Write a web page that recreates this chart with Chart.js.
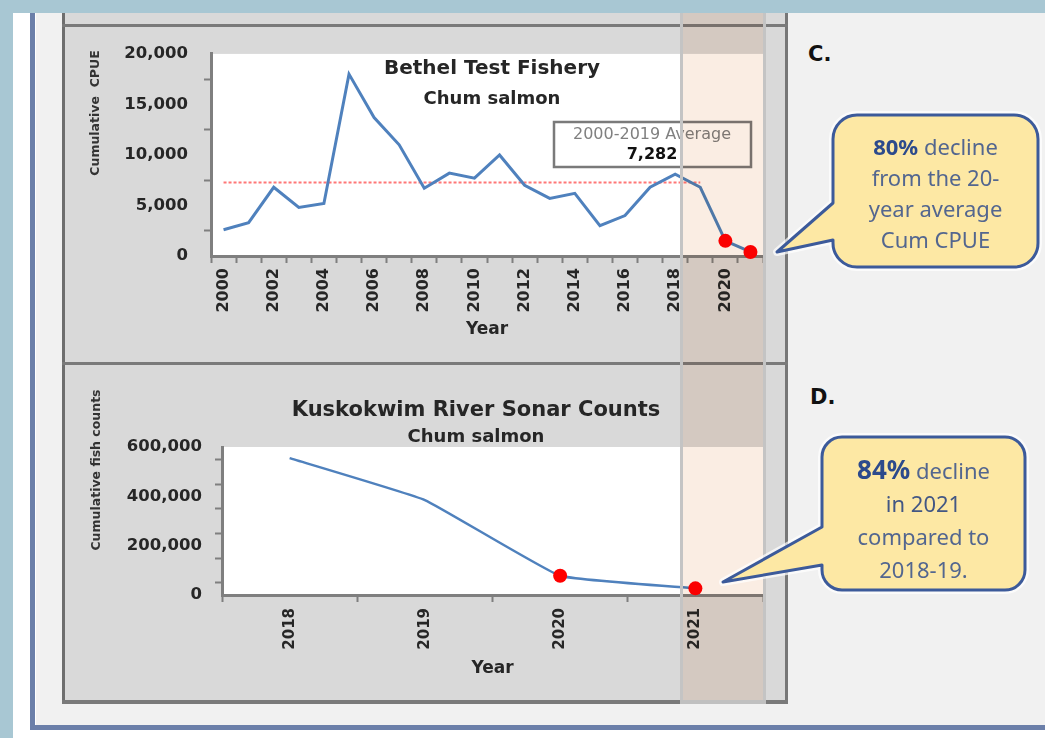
<!DOCTYPE html>
<html>
<head>
<meta charset="utf-8">
<script src="https://cdn.jsdelivr.net/npm/chart.js@4.4.1/dist/chart.umd.min.js"></script>
<style>
  html, body { margin: 0; padding: 0; }
  body { width: 1045px; height: 738px; position: relative; overflow: hidden; background: #fff; }
  .blk { position: absolute; }
  canvas { position: absolute; }
  .label { position: absolute; font: bold 21px 'DejaVu Sans', sans-serif; color: #111; }
  .callout-text { position: absolute; text-align: center; font-family: 'Noto Sans', sans-serif; font-size: 22px; color: #53668f; }
  .callout-text b { color: #2c4a8c; }
</style>
</head>
<body>
<!-- page frame -->
<div class="blk" style="left:0;top:0;width:1045px;height:13px;background:#a8c7d3"></div>
<div class="blk" style="left:0;top:0;width:13px;height:738px;background:#a8c7d3"></div>
<div class="blk" style="left:36px;top:13px;width:1009px;height:712px;background:#f1f1f1"></div>
<div class="blk" style="left:30px;top:13px;width:5px;height:717px;background:#6b7fa9"></div>
<div class="blk" style="left:30px;top:725px;width:1015px;height:5px;background:#6b7fa9"></div>

<!-- grey panel -->
<div class="blk" style="left:62px;top:13px;width:726px;height:691px;background:#d9d9d9"></div>
<div class="blk" style="left:62px;top:13px;width:3px;height:691px;background:#6e6e6e"></div>
<div class="blk" style="left:785px;top:13px;width:3px;height:691px;background:#777"></div>
<div class="blk" style="left:62px;top:24px;width:726px;height:3px;background:#7a7a7a"></div>
<div class="blk" style="left:62px;top:362px;width:726px;height:3px;background:#7a7a7a"></div>
<div class="blk" style="left:62px;top:700px;width:726px;height:4px;background:#7a7a7a"></div>

<canvas id="cpueChart" width="714" height="334" style="left:66px;top:28px"></canvas>
<canvas id="sonarChart" width="714" height="336" style="left:66px;top:366px"></canvas>

<!-- highlighted recent years band -->
<div class="blk" style="left:680px;top:13px;width:86px;height:691px;background:#faede3;mix-blend-mode:multiply"></div>
<div class="blk" style="left:680px;top:13px;width:3px;height:691px;background:#c4c4c4"></div>
<div class="blk" style="left:763px;top:13px;width:3px;height:691px;background:#c4c4c4"></div>
<div class="blk" style="left:680px;top:700px;width:86px;height:4px;background:#c0c0c0"></div>

<div class="label" style="left:808px;top:42px">C.</div>
<div class="label" style="left:810px;top:385px">D.</div>

<svg class="blk" style="left:0;top:0" width="1045" height="738">
  <g fill="none" stroke="rgba(255,255,255,0.7)" stroke-width="8" stroke-linejoin="round">
    <path d="M 857 115 H 1014 A 24 24 0 0 1 1038 139 V 243 A 24 24 0 0 1 1014 267 H 857 A 24 24 0 0 1 833 243 V 240 L 777 252 L 833 203 V 139 A 24 24 0 0 1 857 115 Z"/>
    <path d="M 842 437 H 1005 A 20 20 0 0 1 1025 457 V 570 A 20 20 0 0 1 1005 590 H 842 A 20 20 0 0 1 822 570 V 565 L 723 582 L 822 527 V 457 A 20 20 0 0 1 842 437 Z"/>
  </g>
  <g fill="#fde8a4" stroke="#3c5a9a" stroke-width="3" stroke-linejoin="round">
    <path d="M 857 115 H 1014 A 24 24 0 0 1 1038 139 V 243 A 24 24 0 0 1 1014 267 H 857 A 24 24 0 0 1 833 243 V 240 L 777 252 L 833 203 V 139 A 24 24 0 0 1 857 115 Z"/>
    <path d="M 842 437 H 1005 A 20 20 0 0 1 1025 457 V 570 A 20 20 0 0 1 1005 590 H 842 A 20 20 0 0 1 822 570 V 565 L 723 582 L 822 527 V 457 A 20 20 0 0 1 842 437 Z"/>
  </g>
</svg>

<div class="callout-text" style="left:833px;top:131px;width:205px;line-height:31px">
  <b>80%</b> decline<br>from the 20-<br>year average<br>Cum CPUE
</div>
<div class="callout-text" style="left:822px;top:453px;width:203px;line-height:33px">
  <b style="font-size:26px;line-height:33px">84%</b> decline<br><span style="color:#435784">in 2021</span><br>compared to<br>2018-19.
</div>

<script>
// Bethel Test Fishery, cumulative CPUE by year
const cpueYears = ['2000', '2001', '2002', '2003', '2004', '2005', '2006', '2007', '2008', '2009', '2010',
                   '2011', '2012', '2013', '2014', '2015', '2016', '2017', '2018', '2019', '2020', '2021'];
const cpueValues = [2600, 3300, 6800, 4800, 5200, 18000, 13700, 11000, 6700, 8200, 7700,
                    10000, 7000, 5700, 6200, 3000, 4000, 6800, 8100, 6800, 1500, 400];
const cpueAverage = 7282;
const averageFrom = '2000';
const averageTo = '2019';
const cpueTickValues = [0, 5000, 10000, 15000, 20000];

// Kuskokwim River sonar, cumulative fish counts
const sonarYears = ['2018', '2019', '2020', '2021'];
const sonarCounts = [555000, 385000, 78000, 27000];
const sonarTickValues = [0, 100000, 200000, 300000, 400000, 500000, 600000];
const sonarTickLabels = ['0', '', '200,000', '', '400,000', '', '600,000'];

const highlightYears = ['2020', '2021'];

const FONT = "'DejaVu Sans', sans-serif";
const INK = '#262626';
const AXIS = '#7f7f7f';

// constant reference line over the averaging period
const fromIdx = cpueYears.indexOf(averageFrom);
const toIdx = cpueYears.indexOf(averageTo);
const averageLine = cpueYears.map((y, i) => (i >= fromIdx && i <= toIdx) ? cpueAverage : null);

const plotBackground = {
    id: 'plotBackground',
    beforeDraw(chart) {
        const { ctx, chartArea: a } = chart;
        ctx.save();
        ctx.fillStyle = '#fff';
        ctx.fillRect(a.left, a.top, a.right - a.left, a.bottom - a.top);
        ctx.restore();
    }
};

const panelText = {
    id: 'panelText',
    afterDraw(chart, args, opts) {
        const ctx = chart.ctx;
        if (opts.box) {
            const b = opts.box;
            ctx.save();
            ctx.fillStyle = '#fff';
            ctx.strokeStyle = '#7a7a7a';
            ctx.lineWidth = 2.5;
            ctx.fillRect(b.x, b.y, b.w, b.h);
            ctx.strokeRect(b.x, b.y, b.w, b.h);
            ctx.restore();
        }
        (opts.items || []).forEach(t => {
            ctx.save();
            ctx.translate(t.x, t.y);
            if (t.rotate) ctx.rotate(t.rotate);
            ctx.font = t.font;
            ctx.fillStyle = t.color || INK;
            ctx.textAlign = 'center';
            ctx.textBaseline = 'middle';
            ctx.fillText(t.text, 0, 0);
            ctx.restore();
        });
    }
};

function pointSize(years) {
    return ctx => highlightYears.includes(years[ctx.dataIndex]) ? 7 : 0;
}

function axisGrid() {
    return { offset: true, drawOnChartArea: false, drawTicks: true, tickLength: 7, tickColor: AXIS, tickWidth: 2 };
}

new Chart(document.getElementById('cpueChart'), {
    type: 'line',
    data: {
        labels: cpueYears,
        datasets: [{
            label: 'Cumulative CPUE',
            data: cpueValues,
            borderColor: '#4f81bd',
            borderWidth: 3,
            tension: 0,
            pointRadius: pointSize(cpueYears),
            pointBackgroundColor: '#ff0000',
            pointBorderWidth: 0,
            clip: false
        }, {
            label: '2000-2019 Average',
            data: averageLine,
            borderColor: 'rgba(255,95,95,0.85)',
            borderWidth: 2,
            borderDash: [3, 2],
            pointRadius: 0
        }]
    },
    options: {
        responsive: false,
        animation: false,
        layout: { padding: { left: 0, right: 17, top: 18, bottom: 0 } },
        plugins: {
            legend: { display: false },
            tooltip: { enabled: false },
            panelText: {
                box: { x: 488, y: 94, w: 197, h: 45 },
                items: [
                    { text: 'Bethel Test Fishery', x: 426, y: 41, font: `bold 20px ${FONT}` },
                    { text: 'Chum salmon', x: 426, y: 71, font: `bold 18px ${FONT}` },
                    { text: 'Cumulative  CPUE', x: 30, y: 85, rotate: -Math.PI / 2, font: `bold 12.5px ${FONT}`, color: '#333' },
                    { text: '2000-2019 Average', x: 586, y: 107, font: `16px ${FONT}`, color: '#808080' },
                    { text: cpueAverage.toLocaleString('en-US'), x: 586, y: 127, font: `bold 16px ${FONT}`, color: '#111' }
                ]
            }
        },
        scales: {
            x: {
                offset: true,
                grid: axisGrid(),
                border: { color: AXIS, width: 3 },
                ticks: {
                    autoSkip: false, minRotation: 90, maxRotation: 90, padding: 5,
                    color: INK, font: { family: FONT, size: 16, weight: 'bold' },
                    callback(v, i) { return i % 2 === 0 ? this.getLabelForValue(v) : ''; }
                },
                title: { display: true, text: 'Year', color: INK, font: { family: FONT, size: 17, weight: 'bold' }, padding: { top: 0, bottom: 22 } },
                afterFit(s) { s.height = 106; }
            },
            y: {
                min: 0, max: 20000,
                grid: axisGrid(),
                border: { color: AXIS, width: 3 },
                afterBuildTicks(s) { s.ticks = cpueTickValues.map(v => ({ value: v })); },
                ticks: {
                    padding: 16, color: INK, font: { family: FONT, size: 16.5, weight: 'bold' },
                    callback: v => v.toLocaleString('en-US')
                },
                afterFit(s) { s.width = 145; }
            }
        }
    },
    plugins: [plotBackground, panelText]
});

new Chart(document.getElementById('sonarChart'), {
    type: 'line',
    data: {
        labels: sonarYears,
        datasets: [{
            label: 'Cumulative fish counts',
            data: sonarCounts,
            borderColor: '#4f81bd',
            borderWidth: 2.5,
            tension: 0.1,
            pointRadius: pointSize(sonarYears),
            pointBackgroundColor: '#ff0000',
            pointBorderWidth: 0,
            clip: false
        }]
    },
    options: {
        responsive: false,
        animation: false,
        layout: { padding: { left: 0, right: 17, top: 81, bottom: 0 } },
        plugins: {
            legend: { display: false },
            tooltip: { enabled: false },
            panelText: {
                items: [
                    { text: 'Kuskokwim River Sonar Counts', x: 410, y: 45, font: `bold 21px ${FONT}` },
                    { text: 'Chum salmon', x: 410, y: 71, font: `bold 18px ${FONT}` },
                    { text: 'Cumulative fish counts', x: 31, y: 104, rotate: -Math.PI / 2, font: `bold 12.5px ${FONT}`, color: '#333' }
                ]
            }
        },
        scales: {
            x: {
                offset: true,
                grid: axisGrid(),
                border: { color: AXIS, width: 3 },
                ticks: {
                    autoSkip: false, minRotation: 90, maxRotation: 90, padding: 6,
                    color: INK, font: { family: FONT, size: 15, weight: 'bold' }
                },
                title: { display: true, text: 'Year', color: INK, font: { family: FONT, size: 17, weight: 'bold' }, padding: { top: 0, bottom: 23 } },
                afterFit(s) { s.height = 107; }
            },
            y: {
                min: 0, max: 600000,
                grid: axisGrid(),
                border: { color: AXIS, width: 3 },
                afterBuildTicks(s) { s.ticks = sonarTickValues.map(v => ({ value: v })); },
                ticks: {
                    padding: 13, color: INK, font: { family: FONT, size: 16.5, weight: 'bold' },
                    callback: (v, i) => sonarTickLabels[i]
                },
                afterFit(s) { s.width = 156; }
            }
        }
    },
    plugins: [plotBackground, panelText]
});
</script>
</body>
</html>
